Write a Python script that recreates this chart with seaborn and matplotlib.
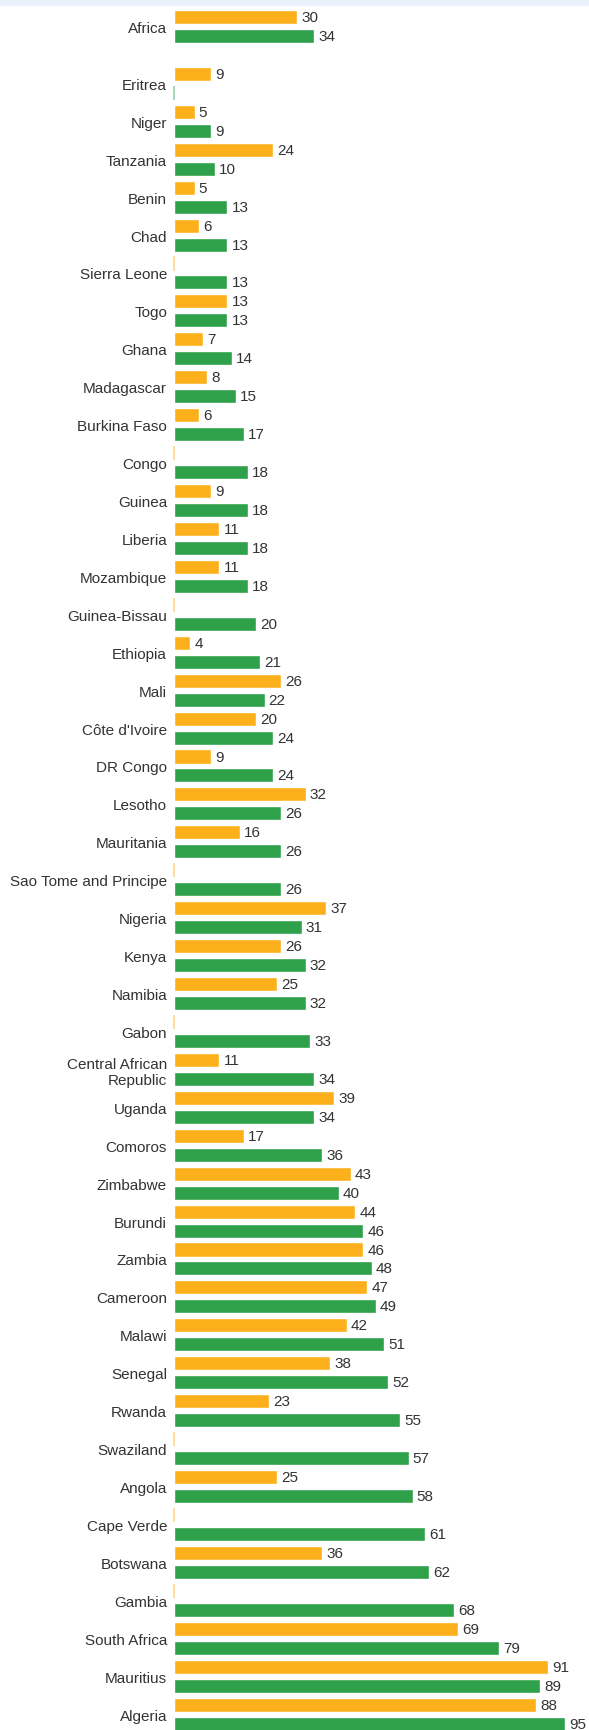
import numpy as np
import pandas as pd
import seaborn as sns
import matplotlib.pyplot as plt
from matplotlib.patches import Rectangle

countries = [
    "Africa", "Eritrea", "Niger", "Tanzania", "Benin", "Chad", "Sierra Leone",
    "Togo", "Ghana", "Madagascar", "Burkina Faso", "Congo", "Guinea", "Liberia",
    "Mozambique", "Guinea-Bissau", "Ethiopia", "Mali", "Côte d'Ivoire",
    "DR Congo", "Lesotho", "Mauritania", "Sao Tome and Principe", "Nigeria",
    "Kenya", "Namibia", "Gabon", "Central African\nRepublic", "Uganda",
    "Comoros", "Zimbabwe", "Burundi", "Zambia", "Cameroon", "Malawi",
    "Senegal", "Rwanda", "Swaziland", "Angola", "Cape Verde", "Botswana",
    "Gambia", "South Africa", "Mauritius", "Algeria",
]
# orange series (None = no data)
first = [
    30, 9, 5, 24, 5, 6, None, 13, 7, 8, 6, None, 9, 11, 11, None, 4, 26, 20,
    9, 32, 16, None, 37, 26, 25, None, 11, 39, 17, 43, 44, 46, 47, 42, 38,
    23, None, 25, None, 36, None, 69, 91, 88,
]
# green series
second = [
    34, None, 9, 10, 13, 13, 13, 13, 14, 15, 17, 18, 18, 18, 18, 20, 21, 22,
    24, 24, 26, 26, 26, 31, 32, 32, 33, 34, 34, 36, 40, 46, 48, 49, 51, 52,
    55, 57, 58, 61, 62, 68, 79, 89, 95,
]

orange = "#fcb11c"
green = "#2ea14a"

sns.set_style("white")
plt.rcParams["font.family"] = ["Liberation Sans", "DejaVu Sans"]

# half-row gap after the Africa total
idx = np.arange(len(countries))
rows = idx + 0.5 * (idx > 0)

df = pd.DataFrame({"pos": rows, "first": first, "second": second})
df = df.melt(id_vars="pos", var_name="series", value_name="value")
df["value"] = df["value"].astype(float).fillna(0)

fig = plt.figure(figsize=(5.89, 17.31), dpi=100)
ax = fig.add_axes([174 / 589, 0, 1 - 174 / 589, 1])
sns.barplot(data=df, x="value", y="pos", hue="series", orient="h",
            native_scale=True, palette=[orange, green], width=1.0, gap=0.26,
            saturation=1, legend=False, ax=ax)

light = {0: "#fdd88d", 1: "#97d0a5"}
for i, cont in enumerate(ax.containers):
    labels = [f"{v:.0f}" if v > 0 else "" for v in cont.datavalues]
    ax.bar_label(cont, labels=labels, padding=3, fontsize=11, color="#333333")
    for p in cont.patches:
        if p.get_width() == 0:
            p.set_edgecolor(light[i])
            p.set_linewidth(1.2)
            p.set_clip_on(False)

ax.set_xlim(0, 100.85)
ax.set_ylim(44.92, -0.725)
ax.set_yticks(rows, labels=countries)
ax.tick_params(axis="y", left=False, pad=1.5, labelsize=11, labelcolor="#333333")
ax.xaxis.set_visible(False)
ax.set_ylabel("")
ax.set_xlabel("")
sns.despine(ax=ax, left=True, bottom=True)

fig.add_artist(Rectangle((0, 1 - 6 / 1731), 1, 6 / 1731,
                         transform=fig.transFigure, color="#eaf1fb", zorder=5))

fig.savefig("out.png", dpi=100)
